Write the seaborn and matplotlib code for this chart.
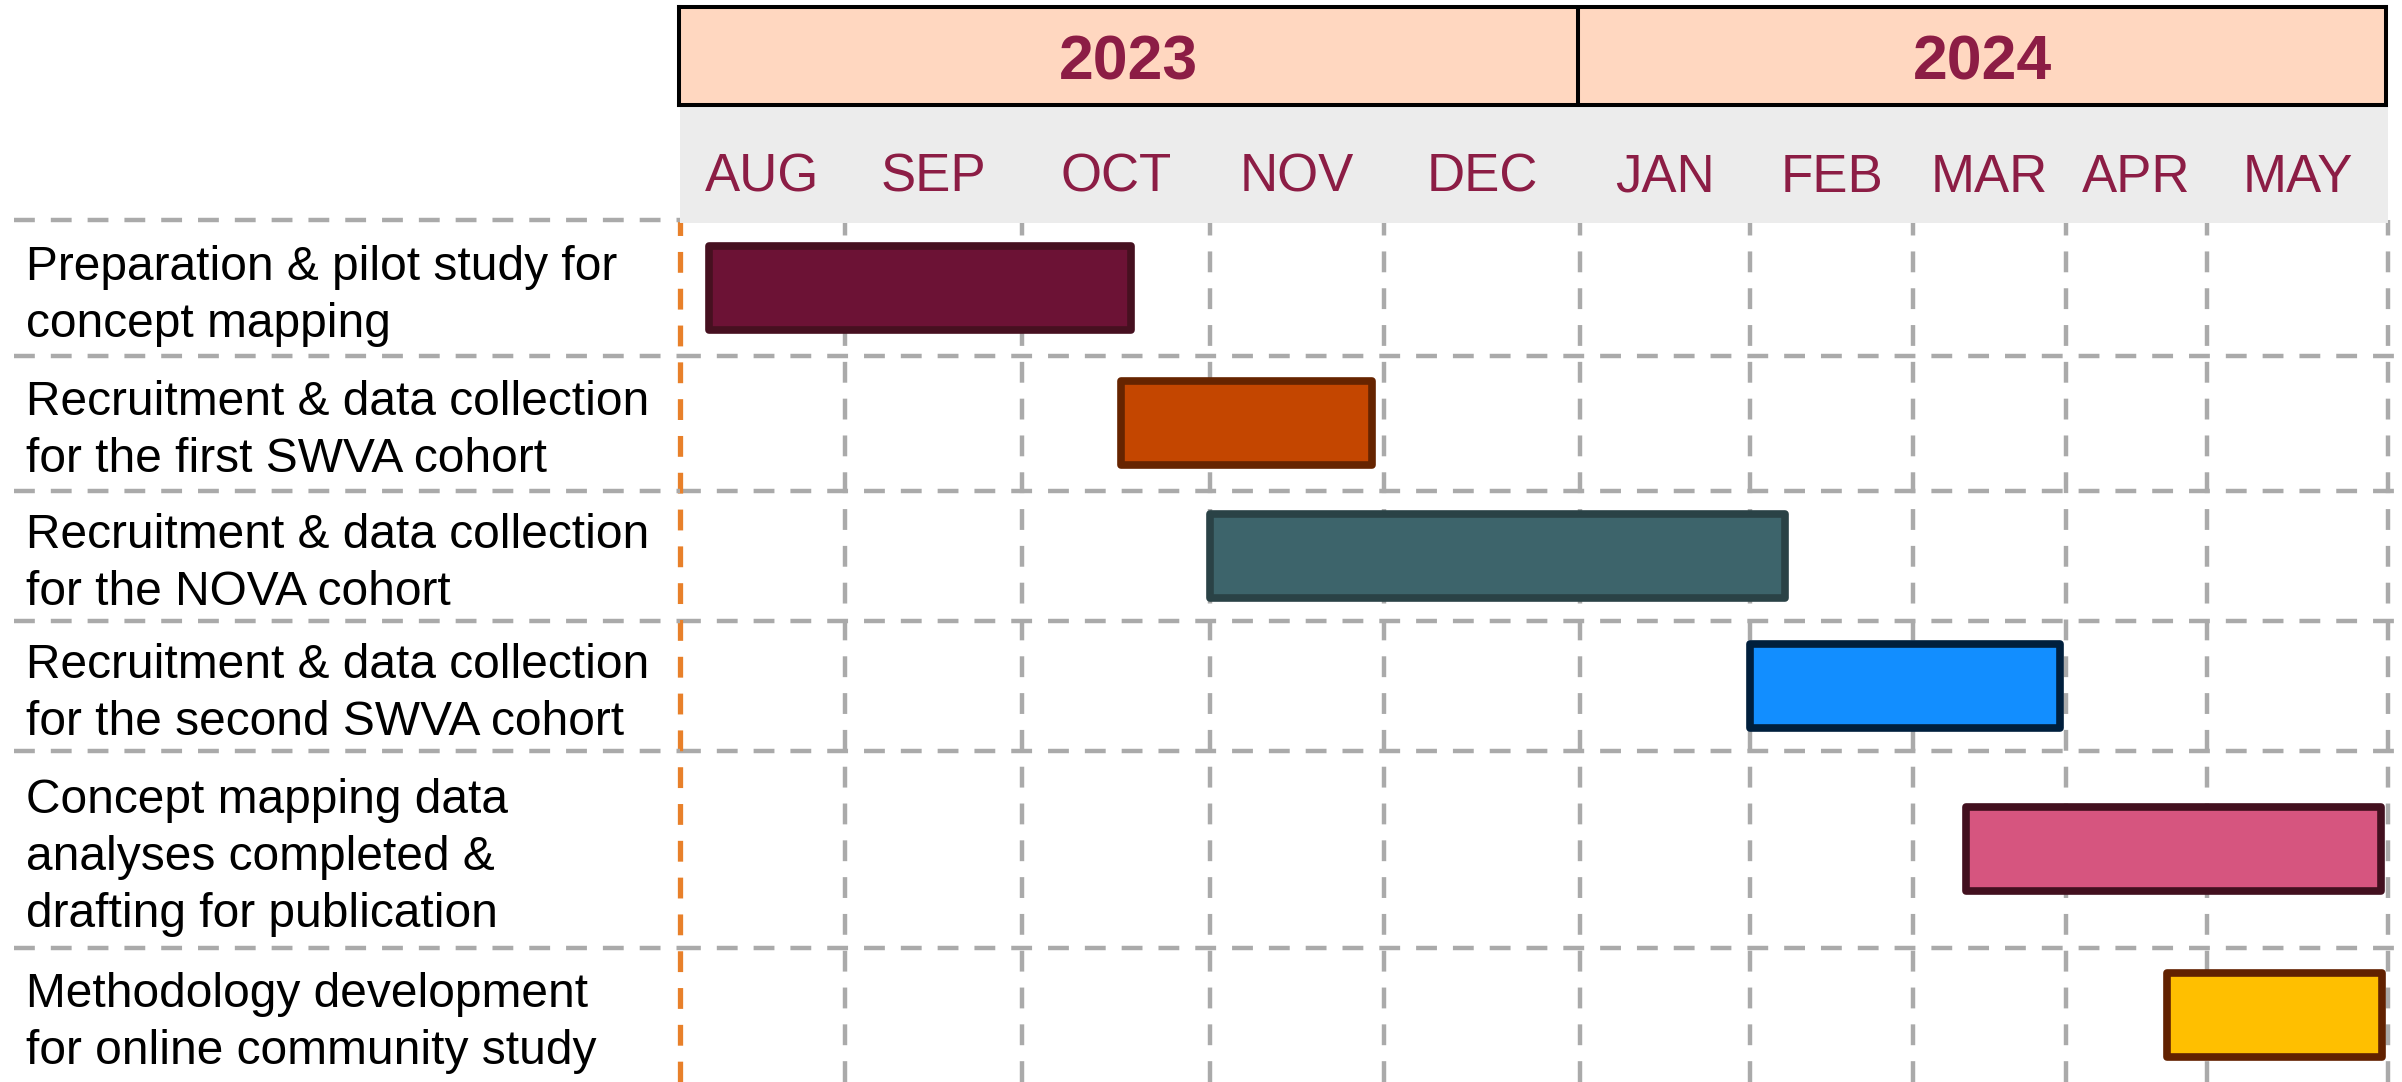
import matplotlib
matplotlib.use("Agg")
import matplotlib.pyplot as plt
import numpy as np
import seaborn as sns

# ---- data ----
# month boundaries on the timeline axis (month units, Aug 2023 = 0)
month_edges = [0.0, 0.966, 2.002, 3.103, 4.122, 5.269, 6.265, 7.219, 8.115, 8.940, 10.0]
month_labels = ["AUG", "SEP", "OCT", "NOV", "DEC", "JAN", "FEB", "MAR", "APR", "MAY"]
years = ["2023", "2024"]
year_start_idx = [0, 5]
year_end_idx = [5, 10]

tasks = [
    "Preparation & pilot study for\nconcept mapping",
    "Recruitment & data collection\nfor the first SWVA cohort",
    "Recruitment & data collection\nfor the NOVA cohort",
    "Recruitment & data collection\nfor the second SWVA cohort",
    "Concept mapping data\nanalyses completed &\ndrafting for publication",
    "Methodology development\nfor online community study",
]
task_start = [0.170, 2.582, 3.103, 6.265, 7.529, 8.706]
task_end = [2.641, 4.052, 6.470, 8.080, 9.959, 9.965]
row_heights = [1.020, 1.015, 0.980, 0.977, 1.479, 1.010]

bar_fill = ["#6C1235", "#C44600", "#3D646B", "#128EFF", "#D6557F", "#FFBF00"]
bar_edge = ["#461020", "#662400", "#2A4246", "#001F3D", "#42101F", "#622100"]

# ---- styling ----
sns.set_theme(style="white")
plt.rcParams["font.family"] = ["Liberation Sans", "DejaVu Sans"]
plt.rcParams["lines.scale_dashes"] = False

grid_grey = "#AAAAAA"
orange = "#E8802A"
maroon = "#8C1D45"
dash = (0, (15, 11.5))

W, H = 2402, 1082
fig = plt.figure(figsize=(W / 100, H / 100), dpi=100)


def px_box(x0, y0, x1, y1):
    return [x0 / W, 1 - y1 / H, (x1 - x0) / W, (y1 - y0) / H]


row_edges = np.concatenate([[0], np.cumsum(row_heights)])
row_centers = (row_edges[:-1] + row_edges[1:]) / 2
total = row_edges[-1]

# main chart area
ax = fig.add_axes(px_box(680, 220, 2388, 1082))
ax.set_xlim(month_edges[0], month_edges[-1])
ax.set_ylim(total, 0)
ax.axis("off")

for x in month_edges[1:]:
    ax.axvline(x, color=grid_grey, lw=3.2, linestyle=dash, clip_on=False, zorder=1)
ax.axvline(month_edges[0], color=orange, lw=3.8, linestyle=dash, clip_on=False, zorder=2)
for y in row_edges[1:-1]:
    ax.axhline(y, xmin=0, xmax=1.004, color=grid_grey, lw=3.2, linestyle=dash,
               clip_on=False, zorder=1)

widths = np.array(task_end) - np.array(task_start)
bars = ax.barh(row_centers, widths, left=task_start, height=0.632,
               color=bar_fill, edgecolor=bar_edge, linewidth=5.5, zorder=3)
for b in bars:
    b.set_joinstyle("round")

# task labels on the left
ax_lab = fig.add_axes(px_box(0, 220, 680, 1082))
ax_lab.set_xlim(0, 1)
ax_lab.set_ylim(total, 0)
ax_lab.axis("off")
for y in row_edges[:-1]:
    ax_lab.axhline(y, xmin=0.021, xmax=1, color=grid_grey, lw=3.2, linestyle=dash,
                   clip_on=False, zorder=1)
for label, yc in zip(tasks, row_centers):
    ax_lab.text(0.038, yc + 0.06, label, ha="left", va="center", fontsize=34.5,
                color="black", linespacing=1.34)

# month band
ax_month = fig.add_axes(px_box(680, 105, 2388, 222.7))
ax_month.set_xlim(month_edges[0], month_edges[-1])
ax_month.set_ylim(0, 1)
ax_month.set_facecolor("#ECECEC")
ax_month.set_xticks([])
ax_month.set_yticks([])
for s in ax_month.spines.values():
    s.set_visible(False)
for i, m in enumerate(month_labels):
    xc = (month_edges[i] + month_edges[i + 1]) / 2
    ax_month.text(xc, 0.261, m, ha="center", va="baseline", fontsize=38, color=maroon)

# year band
ax_year = fig.add_axes(px_box(679, 7.3, 2386, 105))
ax_year.set_xlim(month_edges[0], month_edges[-1])
ax_year.set_ylim(0, 1)
ax_year.set_facecolor("#FFD7C0")
ax_year.set_xticks([])
ax_year.set_yticks([])
for s in ax_year.spines.values():
    s.set_visible(True)
    s.set_color("black")
    s.set_linewidth(2.9)
for yr, i0, i1 in zip(years, year_start_idx, year_end_idx):
    if i0 > 0:
        ax_year.axvline(month_edges[i0], color="black", lw=2.9)
    xc = (month_edges[i0] + month_edges[i1]) / 2
    ax_year.text(xc, 0.256, yr, ha="center", va="baseline", fontsize=45,
                 fontweight="bold", color=maroon)

fig.savefig("out.png", dpi=100, facecolor="white")
